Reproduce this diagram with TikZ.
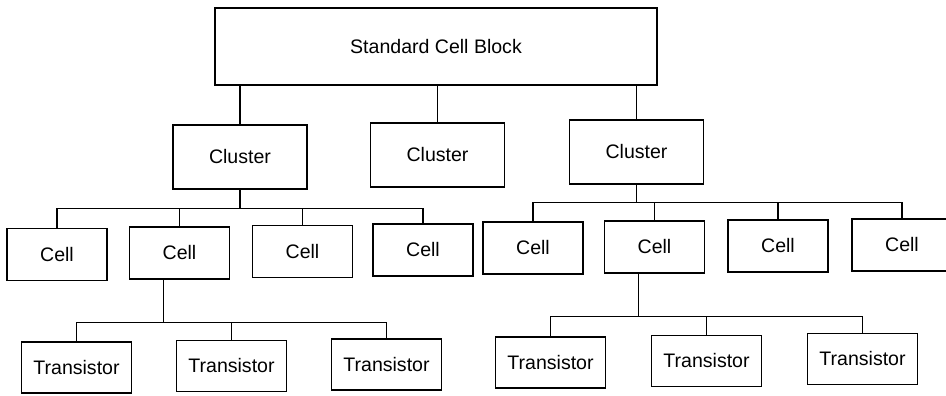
\documentclass[tikz,border=0pt]{standalone}
\usepackage{fontspec}
\setmainfont{Liberation Sans}
\begin{document}
\begin{tikzpicture}[x=0.025cm, y=-0.025cm, line width=1pt,
    box/.style={draw, rectangle, inner sep=0pt, font=\fontsize{13.9}{16}\selectfont},
    blockbox/.style={box, minimum width=11.05cm, minimum height=1.925cm},
    clusterbox/.style={box, minimum width=3.35cm, minimum height=1.6cm},
    cellbox/.style={box, minimum width=2.5cm, minimum height=1.3cm},
    trbox/.style={box, minimum width=2.75cm, minimum height=1.275cm}]
  \useasboundingbox (0,0) rectangle (946,395);
  \node[blockbox] (block) at (436,46.5) {Standard Cell Block};
  \node[clusterbox] (clA) at (240,157) {Cluster};
  \node[clusterbox] (clB) at (437.5,155) {Cluster};
  \node[clusterbox] (clC) at (636.5,152) {Cluster};
  \node[cellbox] (c1) at (57,254.5) {Cell};
  \node[cellbox] (c2) at (179.5,253) {Cell};
  \node[cellbox] (c3) at (302.5,251.5) {Cell};
  \node[cellbox] (c4) at (423,250) {Cell};
  \node[cellbox] (c5) at (533,248) {Cell};
  \node[cellbox] (c6) at (654.5,247) {Cell};
  \node[cellbox] (c7) at (778,246) {Cell};
  \node[cellbox] (c8) at (902,245) {Cell};
  \node[trbox] (t1) at (76.5,367.5) {Transistor};
  \node[trbox] (t2) at (231.5,366) {Transistor};
  \node[trbox] (t3) at (386.5,364.5) {Transistor};
  \node[trbox] (t4) at (550.5,362.5) {Transistor};
  \node[trbox] (t5) at (706.5,361) {Transistor};
  \node[trbox] (t6) at (862.5,359) {Transistor};
  \coordinate (busA) at ([yshift=-19*0.025cm]clA.south);
  \coordinate (busC) at ([yshift=-18*0.025cm]clC.south);
  \coordinate (outA) at ([xshift=-16*0.025cm]c2.south);
  \coordinate (outC) at ([xshift=-16*0.025cm]c6.south);
  \coordinate (busT) at ([yshift=-43*0.025cm]outA);
  \coordinate (busU) at ([yshift=-43*0.025cm]outC);
  \foreach \c in {clA,clB,clC}
    \draw (\c.north) -- (\c.north |- block.south);
  \draw (clA.south) -- (busA);
  \foreach \c in {c1,c2,c3,c4}
    \draw (\c.north) |- (busA);
  \draw (clC.south) -- (busC);
  \foreach \c in {c5,c6,c7,c8}
    \draw (\c.north) |- (busC);
  \draw (outA) -- (busT);
  \foreach \t in {t1,t2,t3}
    \draw (\t.north) |- (busT);
  \draw (outC) -- (busU);
  \foreach \t in {t4,t5,t6}
    \draw (\t.north) |- (busU);
\end{tikzpicture}
\end{document}
